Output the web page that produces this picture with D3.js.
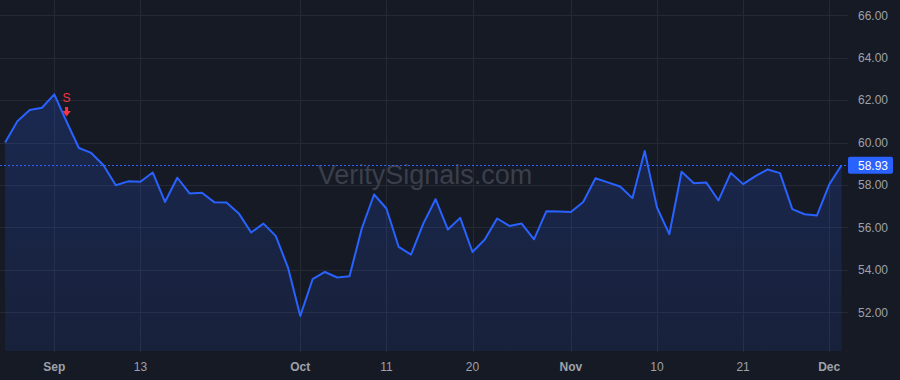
<!DOCTYPE html>
<html>
<head>
<meta charset="utf-8">
<script src="https://cdn.jsdelivr.net/npm/d3@7/dist/d3.min.js"></script>
<style>
  html, body { margin: 0; padding: 0; background: #161a25; }
  svg { display: block; }
</style>
</head>
<body>
<svg id="chart" width="900" height="380"></svg>
<script>
// ---- data ----
const dates = [
  "2023-08-28","2023-08-29","2023-08-30","2023-08-31",
  "2023-09-01","2023-09-05","2023-09-06","2023-09-07","2023-09-08",
  "2023-09-11","2023-09-12","2023-09-13","2023-09-14","2023-09-15",
  "2023-09-18","2023-09-19","2023-09-20","2023-09-21","2023-09-22",
  "2023-09-25","2023-09-26","2023-09-27","2023-09-28","2023-09-29",
  "2023-10-02","2023-10-03","2023-10-04","2023-10-05","2023-10-06",
  "2023-10-09","2023-10-10","2023-10-11","2023-10-12","2023-10-13",
  "2023-10-16","2023-10-17","2023-10-18","2023-10-19","2023-10-20",
  "2023-10-23","2023-10-24","2023-10-25","2023-10-26","2023-10-27",
  "2023-10-30","2023-10-31",
  "2023-11-01","2023-11-02","2023-11-03",
  "2023-11-06","2023-11-07","2023-11-08","2023-11-09","2023-11-10",
  "2023-11-13","2023-11-14","2023-11-15","2023-11-16","2023-11-17",
  "2023-11-20","2023-11-21","2023-11-22","2023-11-24",
  "2023-11-27","2023-11-28","2023-11-29","2023-11-30",
  "2023-12-01","2023-12-04"
];
const prices = [
  60.00, 61.00, 61.53, 61.64, 62.27, 60.98, 59.74, 59.51, 58.93,
  57.99, 58.17, 58.15, 58.59, 57.20, 58.34, 57.60, 57.63, 57.19, 57.17,
  56.66, 55.76, 56.18, 55.60, 54.11,
  51.83, 53.56, 53.90, 53.64, 53.70,
  55.95, 57.55, 56.89, 55.08, 54.72,
  56.18, 57.33, 55.90, 56.45, 54.84,
  55.43, 56.42, 56.07, 56.18, 55.44,
  56.76, 56.75,
  56.73, 57.20, 58.32,
  58.12, 57.93, 57.38, 59.60, 56.94,
  55.68, 58.62, 58.08, 58.12, 57.27,
  58.57, 58.04, 58.42, 58.73,
  58.56, 56.86, 56.62, 56.56,
  58.02, 58.93
];
const xTickDates = ["2023-09-01","2023-09-13","2023-10-02","2023-10-11","2023-10-20","2023-11-01","2023-11-10","2023-11-21","2023-12-01"];
const xTickLabels = ["Sep","13","Oct","11","20","Nov","10","21","Dec"];
const xTickBold = [true,false,true,false,false,true,false,false,true];
const yTicks = [52, 54, 56, 58, 60, 62, 64, 66];
const signalDates = ["2023-09-05"];
const signalLabels = ["S"];
const lastPrice = 58.93;
const watermark = "VeritySignals.com";

// ---- layout ----
const W = 900, H = 380;
const plotRight = 848, plotBottom = 352;
const svg = d3.select("#chart");
const font = "'Liberation Sans', Arial, sans-serif";

const x = d3.scalePoint().domain(dates).range([5.1, 841.5]);
const y = d3.scaleLinear().domain([52, 66]).range([312.3, 15.2]);

svg.append("rect").attr("width", W).attr("height", H).attr("fill", "#161a25");

// gradient
const defs = svg.append("defs");
const grad = defs.append("linearGradient").attr("id", "areaGrad")
  .attr("x1", 0).attr("y1", 0).attr("x2", 0).attr("y2", 1);
grad.append("stop").attr("offset", "0%").attr("stop-color", "#2962ff").attr("stop-opacity", 0.2);
grad.append("stop").attr("offset", "100%").attr("stop-color", "#2962ff").attr("stop-opacity", 0.1);

// grid
const grid = svg.append("g");
grid.selectAll("line.h").data(yTicks).join("line")
  .attr("x1", 0).attr("x2", plotRight)
  .attr("y1", d => Math.round(y(d)) + 0.5).attr("y2", d => Math.round(y(d)) + 0.5)
  .attr("stroke", "#252935").attr("stroke-width", 1);
grid.selectAll("line.v").data(xTickDates).join("line")
  .attr("x1", d => Math.round(x(d)) + 0.5).attr("x2", d => Math.round(x(d)) + 0.5)
  .attr("y1", 0).attr("y2", plotBottom)
  .attr("stroke", "#252935").attr("stroke-width", 1);

// watermark
svg.append("text").attr("x", 425).attr("y", 184)
  .attr("text-anchor", "middle").attr("font-family", font).attr("font-size", 27)
  .attr("fill", "#3b3f4b").text(watermark);

// area
const area = d3.area().x((d, i) => x(dates[i])).y0(plotBottom - 1).y1(d => y(d));
svg.append("path").datum(prices).attr("d", area).attr("fill", "url(#areaGrad)");

// last price dotted line
svg.append("line").attr("x1", 0).attr("x2", plotRight)
  .attr("y1", Math.round(y(lastPrice)) + 0.5).attr("y2", Math.round(y(lastPrice)) + 0.5)
  .attr("stroke", "#2962ff").attr("stroke-width", 1).attr("stroke-dasharray", "2,2");

// line
const line = d3.line().x((d, i) => x(dates[i])).y(d => y(d));
svg.append("path").datum(prices).attr("d", line)
  .attr("fill", "none").attr("stroke", "#2962ff").attr("stroke-width", 2)
  .attr("stroke-linejoin", "round");

// signal markers
signalDates.forEach((sd, k) => {
  const sx = x(sd);
  const g = svg.append("g").attr("transform", `translate(${sx},0)`);
  g.append("text").attr("x", 0).attr("y", 102).attr("text-anchor", "middle")
    .attr("font-family", font).attr("font-size", 12).attr("fill", "#f23645").text(signalLabels[k]);
  g.append("path").attr("d", "M-1.5,107 L1.5,107 L1.5,111 L4.2,111 L0,116.5 L-4.2,111 L-1.5,111 Z")
    .attr("fill", "#f23645");
});

// y axis labels
svg.append("g").selectAll("text").data(yTicks).join("text")
  .attr("x", 858).attr("y", d => y(d) + 4.3)
  .attr("font-family", font).attr("font-size", 12).attr("fill", "#9ea1aa")
  .text(d => d3.format(".2f")(d));

// last price label
const ly = y(lastPrice);
svg.append("rect").attr("x", 848).attr("y", ly - 8.5).attr("width", 45).attr("height", 17)
  .attr("rx", 2).attr("fill", "#2962ff");
svg.append("text").attr("x", 858).attr("y", ly + 4.3)
  .attr("font-family", font).attr("font-size", 12).attr("fill", "#ffffff")
  .text(d3.format(".2f")(lastPrice));

// x axis labels
svg.append("g").selectAll("text").data(xTickDates).join("text")
  .attr("x", d => x(d)).attr("y", 371)
  .attr("text-anchor", "middle").attr("font-family", font).attr("font-size", 12)
  .attr("font-weight", (d, i) => xTickBold[i] ? "bold" : "normal")
  .attr("fill", "#9ea1aa")
  .text((d, i) => xTickLabels[i]);
</script>
</body>
</html>
